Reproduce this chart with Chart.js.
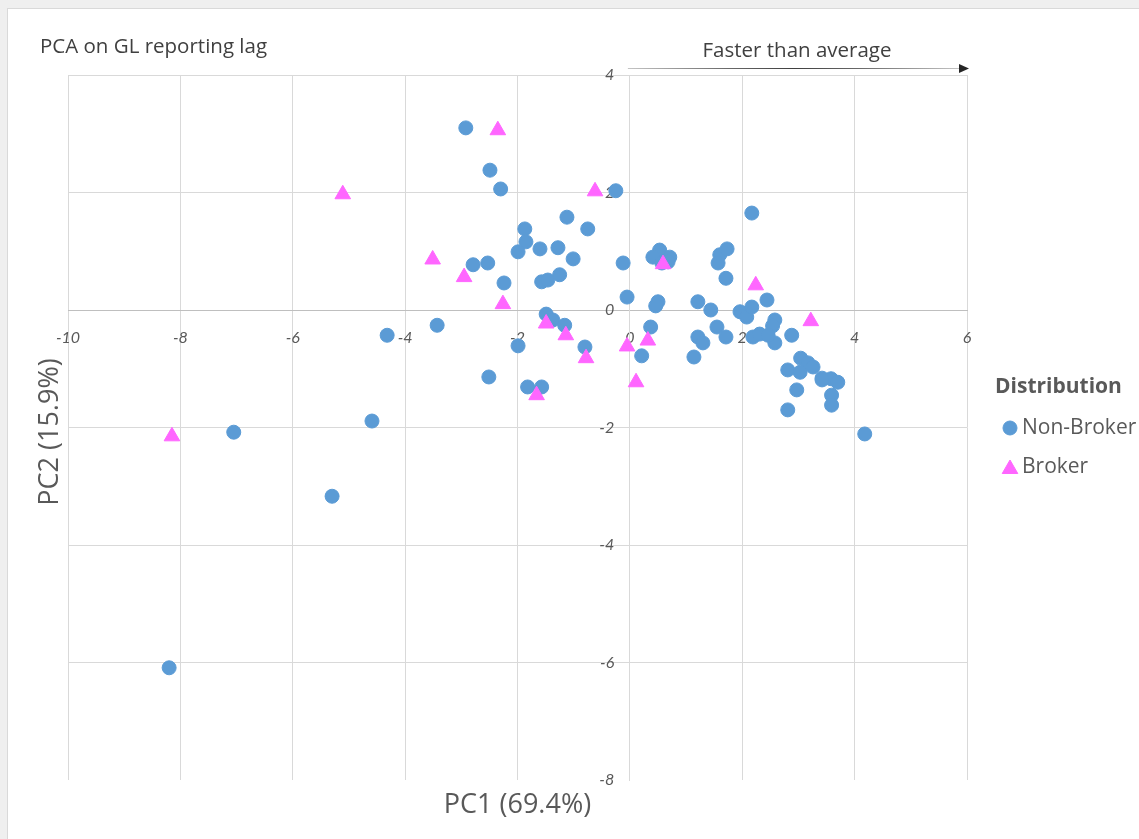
<!DOCTYPE html>
<html>
<head>
<meta charset="utf-8">
<title>PCA on GL reporting lag</title>
<script src="https://cdn.jsdelivr.net/npm/chart.js@4.4.1/dist/chart.umd.min.js"></script>
<style>
  html, body { margin: 0; padding: 0; width: 1139px; height: 839px; overflow: hidden; background: #efefef; }
  #panel { position: absolute; left: 7px; top: 8px; width: 1150px; height: 850px; background: #ffffff; border: 1px solid #d9d9d9; }
  #wrap { position: absolute; left: 0; top: 0; width: 1139px; height: 839px; }
</style>
</head>
<body>
<div id="panel"></div>
<div id="wrap"><canvas id="chart" width="1139" height="839"></canvas></div>
<script>
// Scores on the first two principal components
const chartTitle = 'PCA on GL reporting lag';
const xAxisTitle = 'PC1 (69.4%)';
const yAxisTitle = 'PC2 (15.9%)';
const legendTitle = 'Distribution';
const arrowNote = 'Faster than average';
const seriesNames = ['Non-Broker', 'Broker'];

const nonBrokerPC1 = [
  -2.92, -2.49, -2.30, -0.25, 2.17, -1.12, -0.75, -1.87, -1.85, -1.99,
  -1.60, -1.28, -1.01, -2.79, -2.53, -2.24, -1.57, -1.46, -1.25, -0.12,
  -0.05, 0.53, 0.41, 0.71, 0.57, 0.68, 1.60, 1.73, 1.57, 1.71,
  0.50, 0.46, 1.21, 1.44, 0.37, 1.55, 1.71, 1.21, 1.30, 1.14,
  0.21, 1.96, 2.08, 2.17, 2.44, 2.58, 2.54, 2.58, 2.19, 2.31,
  2.46, 2.88, 3.04, 3.17, 2.81, 3.03, 3.26, 3.42, 3.58, 3.70,
  3.42, 3.59, 3.59, 2.97, 2.81, 4.18, -1.49, -1.37, -1.16, -3.43,
  -1.99, -0.80, -2.51, -1.82, -1.57, -4.32, -4.59, -7.05, -5.30, -8.20
];
const nonBrokerPC2 = [
  3.10, 2.38, 2.06, 2.03, 1.65, 1.58, 1.38, 1.38, 1.16, 0.99,
  1.04, 1.06, 0.87, 0.77, 0.80, 0.46, 0.48, 0.51, 0.60, 0.80,
  0.22, 1.02, 0.90, 0.90, 0.80, 0.82, 0.94, 1.04, 0.80, 0.54,
  0.14, 0.07, 0.14, 0.00, -0.29, -0.29, -0.46, -0.46, -0.56, -0.80,
  -0.78, -0.03, -0.12, 0.05, 0.17, -0.17, -0.27, -0.56, -0.46, -0.41,
  -0.43, -0.43, -0.82, -0.90, -1.02, -1.06, -0.97, -1.16, -1.17, -1.23,
  -1.19, -1.45, -1.62, -1.36, -1.70, -2.11, -0.07, -0.17, -0.26, -0.26,
  -0.61, -0.63, -1.14, -1.31, -1.31, -0.43, -1.89, -2.08, -3.17, -6.09
];
const brokerPC1 = [
  -2.35, -5.11, -0.62, -3.51, -2.95, -2.26, 0.59, 2.24, 3.22,
  -1.49, -1.14, -0.78, -0.05, 0.32, 0.11, -1.66, -8.15
];
const brokerPC2 = [
  3.06, 1.97, 2.02, 0.86, 0.56, 0.10, 0.78, 0.42, -0.19,
  -0.23, -0.43, -0.82, -0.62, -0.52, -1.23, -1.45, -2.15
];

// Axis tick values
const xTicks = [-10, -8, -6, -4, -2, 0, 2, 4, 6];
const yTicks = [4, 2, 0, -2, -4, -6, -8];

const toPoints = (xs, ys) => xs.map((x, i) => ({ x: x, y: ys[i] }));

const TEXT_DARK = '#404040';
const TEXT = '#595959';
const GRID = '#d9d9d9';
const BLUE = '#5b9bd5';
const PINK = '#ff66ff';

// Legend marker: same style, size and colours as the dataset's points
function legendMarker(ctx, ds, x, y) {
  ctx.save();
  ctx.fillStyle = ds.backgroundColor;
  ctx.strokeStyle = ds.borderColor;
  ctx.lineWidth = 1;
  Chart.helpers.drawPoint(ctx, {
    pointStyle: ds.pointStyle, radius: ds.pointRadius, borderWidth: 1, rotation: 0
  }, x, y);
  ctx.restore();
}

// Chart title, the arrow note, axis titles and the legend
const decorations = {
  id: 'decorations',
  afterDraw(chart) {
    const ctx = chart.ctx;
    const area = chart.chartArea;
    const xs = chart.scales.x;
    ctx.save();
    ctx.textBaseline = 'middle';

    ctx.fillStyle = TEXT_DARK;
    ctx.font = '20.5px "Open Sans"';
    ctx.textAlign = 'left';
    ctx.fillText(chartTitle, 40, 47);

    // arrow along the top of the plot, from PC1 = 0 to the right edge
    const ax0 = xs.getPixelForValue(0) - 2;
    const ax1 = area.right - 7;
    const ay = area.top - 7;
    const grad = ctx.createLinearGradient(ax0, 0, ax1, 0);
    grad.addColorStop(0, '#c4c4c4');
    grad.addColorStop(0.3, '#6a6a6a');
    grad.addColorStop(0.5, '#3f3f3f');
    grad.addColorStop(0.7, '#6a6a6a');
    grad.addColorStop(1, '#c4c4c4');
    ctx.strokeStyle = grad;
    ctx.lineWidth = 1;
    ctx.beginPath();
    ctx.moveTo(ax0, ay + 0.5);
    ctx.lineTo(ax1, ay + 0.5);
    ctx.stroke();
    ctx.fillStyle = '#262626';
    ctx.beginPath();
    ctx.moveTo(ax1 - 1, ay - 4);
    ctx.lineTo(ax1 + 9, ay + 0.5);
    ctx.lineTo(ax1 - 1, ay + 5);
    ctx.closePath();
    ctx.fill();

    ctx.fillStyle = TEXT_DARK;
    ctx.font = '20.5px "Open Sans"';
    ctx.textAlign = 'center';
    ctx.fillText(arrowNote, 797, 51);

    // axis titles
    ctx.fillStyle = TEXT;
    ctx.font = '27px "Open Sans"';
    ctx.textAlign = 'center';
    ctx.fillText(xAxisTitle, (area.left + area.right) / 2, 805);
    ctx.save();
    ctx.translate(50, 432);
    ctx.rotate(-Math.PI / 2);
    ctx.fillText(yAxisTitle, 0, 0);
    ctx.restore();

    // legend
    ctx.textAlign = 'left';
    ctx.font = 'bold 21px "Open Sans"';
    ctx.fillText(legendTitle, 995, 387);
    ctx.font = '21px "Open Sans"';
    const rows = [428, 467];
    chart.data.datasets.forEach((ds, i) => {
      const y = rows[i];
      legendMarker(ctx, ds, 1010, ds.pointStyle === 'triangle' ? y + 2 : y);
      ctx.fillStyle = TEXT;
      ctx.fillText(ds.label, 1022, y);
    });
    ctx.restore();
  }
};

const tickFont = { family: 'Lato', style: 'italic', size: 16 };

new Chart(document.getElementById('chart'), {
  type: 'scatter',
  data: {
    datasets: [
      {
        label: seriesNames[0],
        data: toPoints(nonBrokerPC1, nonBrokerPC2),
        pointStyle: 'circle',
        pointRadius: 7,
        pointHoverRadius: 7,
        backgroundColor: BLUE,
        borderColor: BLUE,
        borderWidth: 1,
        order: 2
      },
      {
        label: seriesNames[1],
        data: toPoints(brokerPC1, brokerPC2),
        pointStyle: 'triangle',
        pointRadius: 9,
        pointHoverRadius: 9,
        backgroundColor: PINK,
        borderColor: PINK,
        borderWidth: 1,
        order: 1
      }
    ]
  },
  options: {
    responsive: false,
    animation: false,
    devicePixelRatio: 1,
    layout: { padding: { left: 68, top: 75, right: 172, bottom: 59 } },
    plugins: { legend: { display: false }, title: { display: false }, tooltip: { enabled: false } },
    scales: {
      x: {
        type: 'linear',
        min: -10, max: 6,
        position: { y: 0 },
        afterBuildTicks: s => { s.ticks = xTicks.map(v => ({ value: v })); },
        ticks: { font: tickFont, color: TEXT, padding: 18, maxRotation: 0, autoSkip: false },
        grid: { color: GRID, lineWidth: 1, drawTicks: false },
        border: { color: '#bfbfbf', width: 1 }
      },
      y: {
        type: 'linear',
        min: -8, max: 4,
        position: { x: 0 },
        afterBuildTicks: s => { s.ticks = yTicks.map(v => ({ value: v })); },
        // labels sit a little to the left of the vertical axis line
        ticks: { font: tickFont, color: TEXT, autoSkip: false, callback: v => v + '\u2003\u2009\u2009\u200a' },
        grid: { color: c => (c.tick && c.tick.value === -8 ? 'rgba(0,0,0,0)' : GRID), lineWidth: 1, drawTicks: false },
        border: { color: GRID, width: 1 }
      }
    }
  },
  plugins: [decorations]
});
</script>
</body>
</html>
